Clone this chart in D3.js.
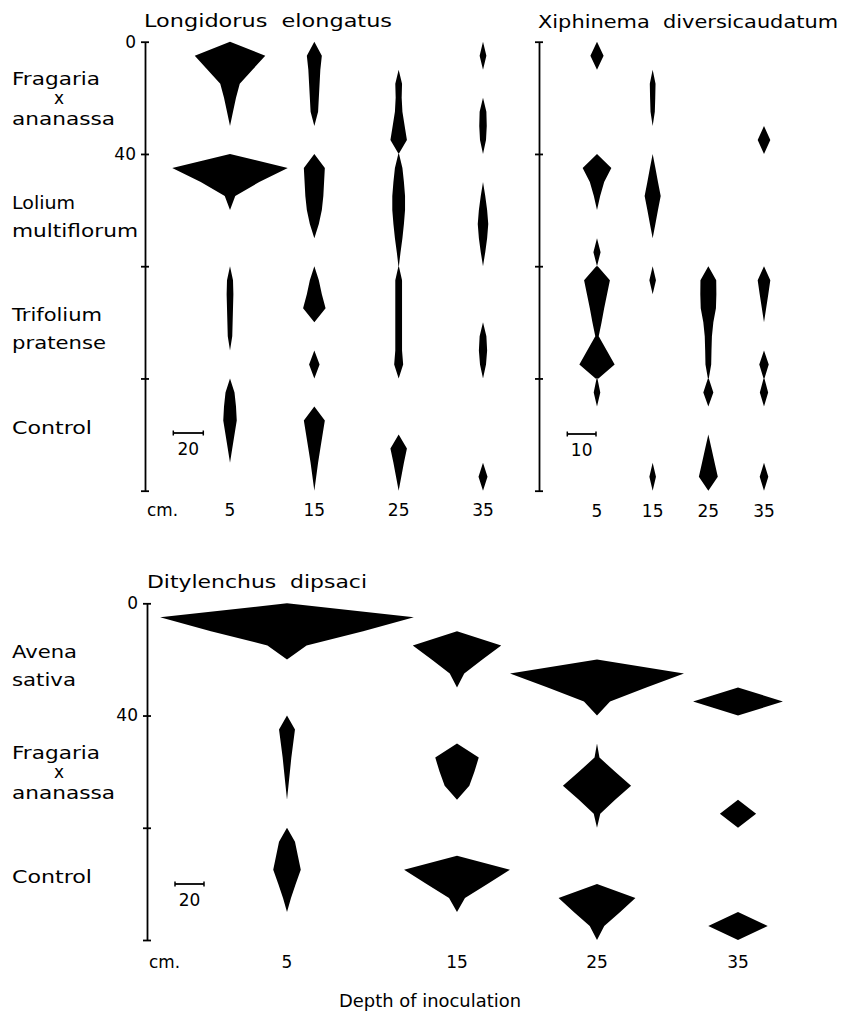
<!DOCTYPE html>
<html><head><meta charset="utf-8">
<script src="https://cdn.jsdelivr.net/npm/d3@7"></script>
<style>
body{margin:0;background:#fff}
text{font-family:"DejaVu Sans",Arial,sans-serif;fill:#000;font-size:17px}
</style>
</head><body>
<svg id="chart" width="847" height="1016"></svg>
<script>
// ---------------- DATA ----------------
// sampling depths within each 40 cm soil block (cm)
const depthSteps = [0, 5, 10, 15, 20, 25, 30, 35, 40];
// depth of inoculation (columns)
const inocDepths = ["5", "15", "25", "35"];
// hosts (rows)
const hostsTop = ["Fragaria x ananassa", "Lolium multiflorum", "Trifolium pratense", "Control"];
const hostsBottom = ["Avena sativa", "Fragaria x ananassa", "Control"];
// axis ticks (cm)
const yTicksTop = [0, 40, 80, 120, 160];
const yTicksBottom = [0, 40, 80, 120];
const yTickLabels = ["0", "40"];

// Longidorus elongatus: numbers at each sampling depth, one array per inoculation depth
const longFragaria = [
  [0, 47, 30, 13, 8, 4, 0, 0, 0],
  [0, 10, 8, 7, 6, 5, 0, 0, 0],
  [0, 0, 0, 4.5, 4, 5, 8, 11, 0],
  [0, 4.5, 0, 0, 0, 4.5, 5, 4, 0]
];
const longLolium = [
  [0, 77, 39, 7, 0, 0, 0, 0, 0],
  [0, 14, 13, 12, 10, 6, 0, 0, 0],
  [0.5, 5, 7, 8.5, 8.5, 7, 5, 2.5, 0.3],
  [0, 0, 0, 3, 5.5, 7, 5.5, 3, 0]
];
const longTrifolium = [
  [0, 4, 4.5, 4, 3.5, 3, 0, 0, 0],
  [0, 6, 10, 15, 0, 0, 0, 7, 0],
  [0.3, 4.5, 4.5, 4.5, 4.5, 4.5, 4.5, 6, 0],
  [0, 0, 0, 0, 0, 4.5, 5.5, 4, 0]
];
const longControl = [
  [0, 6, 8, 9, 6, 3, 0, 0, 0],
  [0, 0, 0, 14, 11, 8, 5, 2.5, 0],
  [0, 0, 0, 0, 0, 11, 7, 3.5, 0],
  [0, 0, 0, 0, 0, 0, 0, 6, 0]
];

// Xiphinema diversicaudatum
const xiphFragaria = [
  [0, 4.6, 0, 0, 0, 0, 0, 0, 0],
  [0, 0, 0, 2, 1.8, 1.5, 0, 0, 0],
  [0, 0, 0, 0, 0, 0, 0, 0, 0],
  [0, 0, 0, 0, 0, 0, 0, 4.4, 0]
];
const xiphLolium = [
  [0, 10, 5, 2.2, 0, 0, 0, 2.5, 0],
  [0, 1.9, 3.7, 5.6, 3.7, 1.9, 0, 0, 0],
  [0, 0, 0, 0, 0, 0, 0, 0, 0],
  [0, 0, 0, 0, 0, 0, 0, 0, 0]
];
const xiphTrifolium = [
  [0.5, 9, 7, 5, 3.2, 1.2, 6.8, 12.3, 1],
  [0, 2.3, 0, 0, 0, 0, 0, 0, 0],
  [0, 5.5, 5.6, 5.3, 3.5, 2.5, 2.2, 2, 0.3],
  [0, 4.4, 3, 1.5, 0, 0, 0, 3.3, 0.3]
];
const xiphControl = [
  [0.3, 2.3, 0, 0, 0, 0, 0, 0, 0],
  [0, 0, 0, 0, 0, 0, 0, 2.3, 0],
  [0.3, 3.5, 0, 0, 0, 2.2, 4.4, 6.6, 0],
  [0.3, 2.9, 0, 0, 0, 0, 0, 3, 0]
];

// Ditylenchus dipsaci
const ditAvena = [
  [0, 175, 105, 27, 0, 0, 0, 0, 0],
  [0, 0, 0, 61, 35, 10, 0, 0, 0],
  [0, 0, 0, 0, 0, 120, 68, 18, 0],
  [0, 0, 0, 0, 0, 0, 0, 62, 0]
];
const ditFragaria = [
  [0, 11, 8.5, 6, 4, 2, 0, 0, 0],
  [0, 0, 0, 30, 24, 17, 0, 0, 0],
  [0, 0, 0, 3.4, 25, 47, 25, 4.5, 0],
  [0, 0, 0, 0, 0, 0, 0, 25, 0]
];
const ditControl = [
  [0, 11, 15, 19, 12, 5.5, 0, 0, 0],
  [0, 0, 0, 73, 42, 11, 0, 0, 0],
  [0, 0, 0, 0, 0, 53, 32, 10, 0],
  [0, 0, 0, 0, 0, 0, 0, 41, 0]
];

// scale-bar values (numbers of nematodes)
const scaleBarLong = 20, scaleBarXiph = 10, scaleBarDit = 20;

// ---------------- LAYOUT ----------------
const svg = d3.select("#chart");
const blockCm = 40;
const FONT = '"DejaVu Sans",Arial,sans-serif';

const textWidths = {
  "Longidorus  elongatus": 248, "Xiphinema  diversicaudatum": 300, "Ditylenchus  dipsaci": 220,
  "Fragaria": 88, "ananassa": 103, "Lolium": 63, "multiflorum": 126, "Trifolium": 90,
  "pratense": 94, "Control": 80, "Avena": 65, "sativa": 64, "cm.": 31, "Depth of inoculation": 182
};
function txt(g, s, x, y, anchor) {
  const t = g.append("text").attr("x", x).attr("y", y).attr("text-anchor", anchor || "start")
    .attr("xml:space", "preserve").text(s);
  if (textWidths[s]) t.attr("textLength", textWidths[s]).attr("lengthAdjust", "spacingAndGlyphs");
  return t;
}

function drawPanel(p) {
  const g = svg.append("g");
  const nBlocks = p.data.length;
  const y = d3.scaleLinear().domain([0, nBlocks * blockCm]).range(p.yRange);
  const w = d3.scaleLinear().domain([0, p.barValue]).range([0, p.barPx]);
  const x = p.xScale;

  // kites
  const area = d3.area()
    .x0(d => d.cx - w(d.v) / 2)
    .x1(d => d.cx + w(d.v) / 2)
    .y(d => y(d.depth))
    .curve(d3.curveLinear);
  p.data.forEach((hostRows, i) => {
    hostRows.forEach((vals, j) => {
      if (d3.max(vals) === 0) return;
      const cx = x(inocDepths[j]);
      const pts = depthSteps.map((d, k) => ({ depth: i * blockCm + d, v: vals[k], cx }));
      g.append("path").datum(pts).attr("d", area).attr("fill", "#000");
    });
  });

  // vertical axis
  const axis = d3.axisLeft(y).tickValues(p.ticks).tickSizeInner(4).tickSizeOuter(0).tickPadding(5)
    .tickFormat((d, i) => p.labels ? (yTickLabels[i] || "") : "");
  const ag = g.append("g").attr("transform", `translate(${p.axisX},0)`).call(axis);
  ag.select(".domain").attr("stroke", "#000").attr("stroke-width", 1.8);
  ag.selectAll(".tick line").attr("x1", -4).attr("x2", 4).attr("stroke", "#000").attr("stroke-width", 1.8);
  ag.selectAll(".tick text").attr("font-size", 17).attr("font-family", FONT).attr("fill", "#000");

  // host labels
  if (p.hosts) p.hosts.forEach((h, i) => {
    const top = y(i * blockCm);
    const parts = h.split(" ");
    const offs = parts.length === 3 ? [43, 62, 83] : parts.length === 2 ? [55, 83] : [55.5];
    parts.forEach((s, k) => {
      if (s === "x") txt(g, s, 59, top + offs[k], "middle");
      else txt(g, s, 12, top + offs[k]);
    });
  });

  // column labels
  if (p.cm) txt(g, "cm.", p.axisX + 2, p.colLabelY);
  inocDepths.forEach(d => txt(g, d, x(d), p.colLabelY, "middle"));

  // title
  txt(g, p.title, p.titleX, p.titleY);

  // scale bar
  const bx = p.barX, by = p.barY, bw = w(p.barValue);
  g.append("line").attr("x1", bx).attr("x2", bx + bw).attr("y1", by).attr("y2", by).attr("stroke", "#000").attr("stroke-width", 1.8);
  [bx, bx + bw].forEach(xx => g.append("line").attr("x1", xx).attr("x2", xx).attr("y1", by - 2.5).attr("y2", by + 2.5).attr("stroke", "#000").attr("stroke-width", 1.5));
  txt(g, String(p.barValue), bx + bw / 2, by + 22, "middle");
}

drawPanel({
  title: "Longidorus  elongatus", titleX: 144, titleY: 27,
  hosts: hostsTop, data: [longFragaria, longLolium, longTrifolium, longControl],
  yRange: [41.7, 490.7], ticks: yTicksTop, labels: true, axisX: 145,
  xScale: d3.scalePoint().domain(inocDepths).range([230, 483]),
  barValue: scaleBarLong, barPx: 30, barX: 173.3, barY: 433,
  cm: true, colLabelY: 516
});
drawPanel({
  title: "Xiphinema  diversicaudatum", titleX: 538, titleY: 28,
  hosts: null, data: [xiphFragaria, xiphLolium, xiphTrifolium, xiphControl],
  yRange: [41.7, 490.7], ticks: yTicksTop, labels: false, axisX: 539,
  xScale: d3.scalePoint().domain(inocDepths).range([597, 764]),
  barValue: scaleBarXiph, barPx: 28.7, barX: 567.3, barY: 434,
  cm: false, colLabelY: 517
});
drawPanel({
  title: "Ditylenchus  dipsaci", titleX: 147, titleY: 588,
  hosts: hostsBottom, data: [ditAvena, ditFragaria, ditControl],
  yRange: [603.3, 940], ticks: yTicksBottom, labels: true, axisX: 147,
  xScale: d3.scaleOrdinal().domain(inocDepths).range([287, 457, 597, 738]),
  barValue: scaleBarDit, barPx: 29, barX: 175, barY: 884,
  cm: true, colLabelY: 968
});
txt(svg, "Depth of inoculation", 430, 1007, "middle");
</script>
</body></html>
